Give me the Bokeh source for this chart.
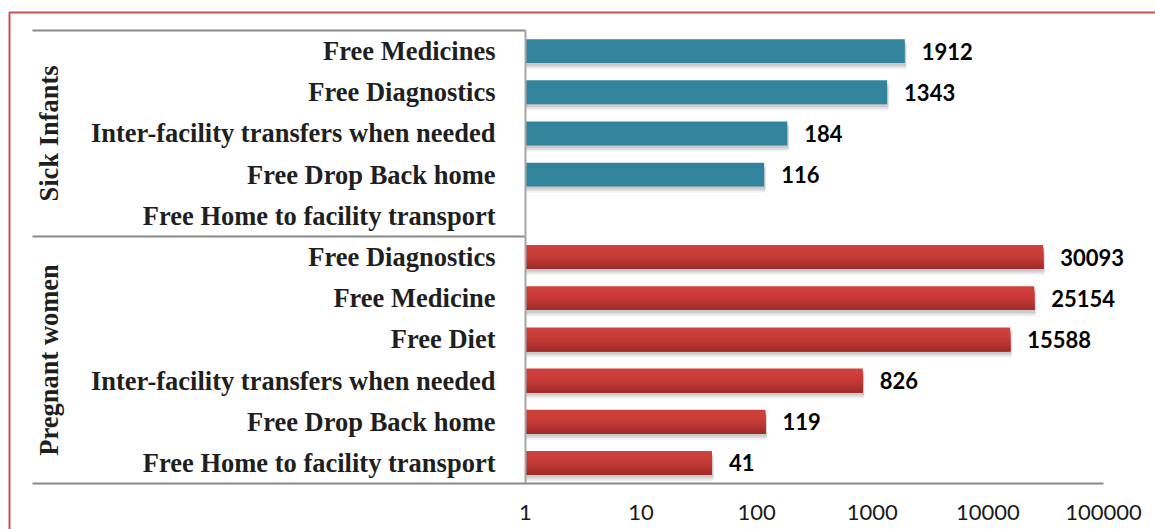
import math
from bokeh.plotting import figure
from bokeh.models import ColumnDataSource, FixedTicker, Range1d, BoxAnnotation
from bokeh.core.properties import value
from bokeh.embed import file_html
from bokeh.resources import INLINE

# ---------------- data ----------------
groups = ["Sick Infants", "Pregnant women"]
sick_items = ["Free Medicines", "Free Diagnostics", "Inter-facility transfers when needed",
              "Free Drop Back home", "Free Home to facility transport"]
sick_values = [1912, 1343, 184, 116, None]
preg_items = ["Free Diagnostics", "Free Medicine", "Free Diet",
              "Inter-facility transfers when needed", "Free Drop Back home",
              "Free Home to facility transport"]
preg_values = [30093, 25154, 15588, 826, 119, 41]
tick_values = [1, 10, 100, 1000, 10000, 100000]
tick_labels = ["1", "10", "100", "1000", "10000", "100000"]

# ---------------- layout (canvas px) ----------------
W, H = 1155, 529
ROWS_TOP, ROWS_BOTTOM = 30, 483    # band of the rows / position of x axis line
TABLE_L = 32                       # left end of the table lines
X_ONE = 525                        # canvas x of value 1
DEC = 115.6                        # px per decade
n_rows = len(sick_items) + len(preg_items)
ROW_PX = (ROWS_BOTTOM - ROWS_TOP) / n_rows

x_start = 10 ** (-X_ONE / DEC)
x_end = 10 ** ((W - X_ONE) / DEC)
x_table = 10 ** (-(X_ONE - TABLE_L) / DEC)
y_top = -ROWS_TOP / ROW_PX
y_bottom = n_rows + (H - ROWS_BOTTOM) / ROW_PX

p = figure(width=W, height=H, output_backend="svg", toolbar_location=None,
           x_axis_type="log", y_axis_location=None,
           x_range=Range1d(x_start, x_end), y_range=Range1d(y_bottom, y_top),
           min_border=0)
p.outline_line_color = None
p.background_fill_color = "white"
p.border_fill_color = "white"
p.xgrid.grid_line_color = None
p.ygrid.grid_line_color = None

# outer red border
p.add_layout(BoxAnnotation(left=9, right=W + 20, top=12, bottom=H + 20,
                           left_units="canvas", right_units="canvas",
                           top_units="canvas", bottom_units="canvas",
                           fill_color=None, fill_alpha=0, line_color="#C9514E",
                           line_alpha=1.0, line_width=2))

# rows
items = sick_items + preg_items
vals = sick_values + preg_values
grp = [groups[0]] * len(sick_items) + [groups[1]] * len(preg_items)
ys = [i + 0.5 for i in range(n_rows)]

BAR_H = 0.58
by, bv, bg = [], [], []
for v, y, g in zip(vals, ys, grp):
    if v is not None:
        by.append(y); bv.append(v); bg.append(g)
bars = ColumnDataSource(dict(y=by, right=bv, label=[str(v) for v in bv]))

# soft shadows below bars
for off, a in [(0.15, 0.05), (0.11, 0.07), (0.07, 0.09)]:
    src = ColumnDataSource(dict(y=[y + off for y in by], right=[v * 1.03 for v in bv]))
    p.hbar(y="y", left=1, right="right", height=BAR_H, source=src,
           fill_color="#000000", fill_alpha=a, line_color=None)

t_idx = [i for i, g in enumerate(bg) if g == groups[0]]
r_idx = [i for i, g in enumerate(bg) if g == groups[1]]

# teal bars (sick infants)
p.hbar(y=[by[i] for i in t_idx], left=1, right=[bv[i] for i in t_idx], height=BAR_H,
       fill_color="#31849B", line_color=None)

# red bars with vertical gradient (layers from strip top to bar bottom)
top_c = (0xD0, 0x42, 0x3F)
mid_c = (0xC6, 0x3B, 0x38)
bot_c = (0x9E, 0x2B, 0x29)
NS = 12
for k in range(NS):
    t = (k + 0.5) / NS
    if t < 0.5:
        u = t / 0.5
        c = tuple(int(top_c[j] + (mid_c[j] - top_c[j]) * u) for j in range(3))
    else:
        u = (t - 0.5) / 0.5
        c = tuple(int(mid_c[j] + (bot_c[j] - mid_c[j]) * u) for j in range(3))
    col = "#%02X%02X%02X" % c
    hk = BAR_H * (1 - k / NS)
    p.hbar(y=[by[i] + BAR_H / 2 - hk / 2 for i in r_idx], left=1,
           right=[bv[i] for i in r_idx], height=hk,
           fill_color=col, line_color=None)

# value labels
p.text(x="right", y="y", text="label", source=bars, x_offset=17,
       text_font=value("Lato"), text_font_style="bold", text_font_size="22px",
       text_color="#000000", text_align="left", text_baseline="middle")

# category labels
p.text(x=[1] * n_rows, y=ys, text=items, x_offset=-(X_ONE - 495),
       text_font=value("Liberation Serif"), text_font_style="bold",
       text_font_size="26.5px", text_color="#1F1F1F",
       text_align="right", text_baseline="middle")

# group labels (rotated)
g_centers = [len(sick_items) / 2, len(sick_items) + len(preg_items) / 2]
p.text(x=[1, 1], y=g_centers, text=groups, x_offset=-(X_ONE - 48), angle=math.pi / 2,
       text_font=value("Liberation Serif"), text_font_style="bold",
       text_font_size="26.5px", text_color="#1F1F1F",
       text_align="center", text_baseline="middle")

# table lines
p.segment(x0=[x_table, x_table], y0=[0, len(sick_items)], x1=[1, 1],
          y1=[0, len(sick_items)], line_color="#898989", line_width=2)
p.segment(x0=[1], y0=[0], x1=[1], y1=[n_rows], line_color="#A6A6A6", line_width=2)

# x axis (drawn at the bottom of the rows)
ax = p.xaxis[0]
ax.fixed_location = n_rows
ax.ticker = FixedTicker(ticks=tick_values)
ax.major_label_overrides = {v: l for v, l in zip(tick_values, tick_labels)}
ax.bounds = (x_table, 100000)
ax.axis_line_color = "#898989"
ax.axis_line_width = 2
ax.major_tick_line_color = None
ax.minor_tick_line_color = None
ax.major_tick_out = 0
ax.major_tick_in = 0
ax.major_label_standoff = 21
ax.major_label_text_font = "Lato"
ax.major_label_text_font_size = "22px"
ax.major_label_text_color = "#1A1A1A"

open("out.html", "w").write(file_html(p, INLINE))
